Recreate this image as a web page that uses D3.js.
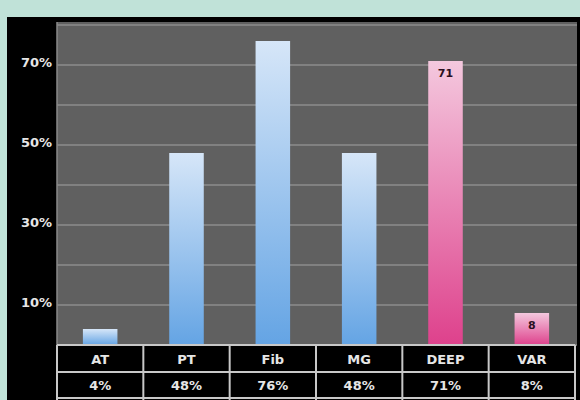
<!DOCTYPE html>
<html>
<head>
<meta charset="utf-8">
<script src="https://cdn.jsdelivr.net/npm/d3@7"></script>
<style>
  body { margin: 0; background: #c0e2d8; }
  svg { display: block; }
  text { font-family: "DejaVu Sans", sans-serif; font-weight: bold; }
</style>
</head>
<body>
<svg width="580" height="400"></svg>
<script>
// chart data
const categories = ["AT", "PT", "Fib", "MG", "DEEP", "VAR"];
const values = [4, 48, 76, 48, 71, 8];
const deepSeries = ["DEEP", "VAR"];
const tickValues = [10, 30, 50, 70];
const gridValues = [0, 10, 20, 30, 40, 50, 60, 70, 80];

const svg = d3.select("svg");
const plotLeft = 57, plotRight = 575, plotTop = 22, plotBottom = 345;

const defs = svg.append("defs");
const blue = defs.append("linearGradient").attr("id", "gBlue").attr("x1", 0).attr("y1", 0).attr("x2", 0).attr("y2", 1);
blue.append("stop").attr("offset", "0%").attr("stop-color", "#d6e6f8");
blue.append("stop").attr("offset", "100%").attr("stop-color", "#64a4e4");
const pink = defs.append("linearGradient").attr("id", "gPink").attr("x1", 0).attr("y1", 0).attr("x2", 0).attr("y2", 1);
pink.append("stop").attr("offset", "0%").attr("stop-color", "#f4c8de");
pink.append("stop").attr("offset", "100%").attr("stop-color", "#de418c");

// black panel + gray plot area
svg.append("rect").attr("x", 7).attr("y", 17).attr("width", 573).attr("height", 383).attr("fill", "#000");
svg.append("rect").attr("x", plotLeft).attr("y", plotTop).attr("width", 520).attr("height", plotBottom - plotTop).attr("fill", "#606060");

const xScale = d3.scaleBand().domain(categories).range([plotLeft, plotRight]);
const yScale = d3.scaleLinear().domain([0, 80]).range([plotBottom, 25]);

svg.selectAll(".grid")
    .data(gridValues)
    .enter()
    .append("line")
    .classed("grid", true)
    .attr("x1", plotLeft)
    .attr("x2", 577)
    .attr("y1", (d) => yScale(d))
    .attr("y2", (d) => yScale(d))
    .attr("stroke", "#8c8c8c")
    .attr("stroke-width", 1.5);

// left edge of plot
svg.append("line").attr("x1", plotLeft).attr("x2", plotLeft).attr("y1", plotTop).attr("y2", plotBottom)
    .attr("stroke", "#8a8a8a").attr("stroke-width", 1.5);

const bw = xScale.bandwidth() * 0.4;
svg.selectAll(".bar")
    .data(categories)
    .enter()
    .append("rect")
    .classed("bar", true)
    .attr("x", (c) => xScale(c) + (xScale.bandwidth() - bw) / 2)
    .attr("width", bw)
    .attr("y", (c, i) => yScale(values[i]))
    .attr("height", (c, i) => plotBottom - yScale(values[i]))
    .attr("fill", (c) => (deepSeries.includes(c) ? "url(#gPink)" : "url(#gBlue)"));

// value labels on the pink bars
svg.selectAll(".vlabel")
    .data(categories.filter((c) => deepSeries.includes(c)))
    .enter()
    .append("text")
    .classed("vlabel", true)
    .attr("x", (c) => xScale(c) + xScale.bandwidth() / 2)
    .attr("y", (c) => yScale(values[categories.indexOf(c)]) + 16)
    .attr("text-anchor", "middle")
    .attr("font-size", 11)
    .attr("fill", "#2a1020")
    .text((c) => values[categories.indexOf(c)]);

// y axis
const yAxis = svg.append("g")
    .attr("transform", `translate(${plotLeft},0)`)
    .call(d3.axisLeft(yScale).tickValues(tickValues).tickSize(0).tickPadding(5).tickFormat((d) => d + "%"));
yAxis.select(".domain").remove();
yAxis.selectAll("text").attr("fill", "#e6e6e6").attr("font-size", 13)
    .style("font-family", "'DejaVu Sans', sans-serif").style("font-weight", "bold")
    .attr("dy", "0.15em");

// table under the chart
const rowY = [345, 372, 398];
svg.selectAll(".hline")
    .data(rowY)
    .enter()
    .append("line")
    .attr("x1", plotLeft)
    .attr("x2", plotRight)
    .attr("y1", (d) => d)
    .attr("y2", (d) => d)
    .attr("stroke", "#c8c8c8")
    .attr("stroke-width", 2);

svg.selectAll(".vline")
    .data(categories.map((c) => xScale(c)).concat([plotRight]))
    .enter()
    .append("line")
    .attr("x1", (d) => d)
    .attr("x2", (d) => d)
    .attr("y1", plotBottom)
    .attr("y2", 400)
    .attr("stroke", "#c8c8c8")
    .attr("stroke-width", 2);

svg.selectAll(".cat")
    .data(categories)
    .enter()
    .append("text")
    .attr("x", (c) => xScale(c) + xScale.bandwidth() / 2)
    .attr("y", 364)
    .attr("text-anchor", "middle")
    .attr("font-size", 13)
    .attr("fill", "#e6e6e6")
    .text((c) => c);

svg.selectAll(".pct")
    .data(categories)
    .enter()
    .append("text")
    .attr("x", (c) => xScale(c) + xScale.bandwidth() / 2)
    .attr("y", 390)
    .attr("text-anchor", "middle")
    .attr("font-size", 13)
    .attr("fill", "#e6e6e6")
    .text((c, i) => values[i] + "%");
</script>
</body>
</html>
